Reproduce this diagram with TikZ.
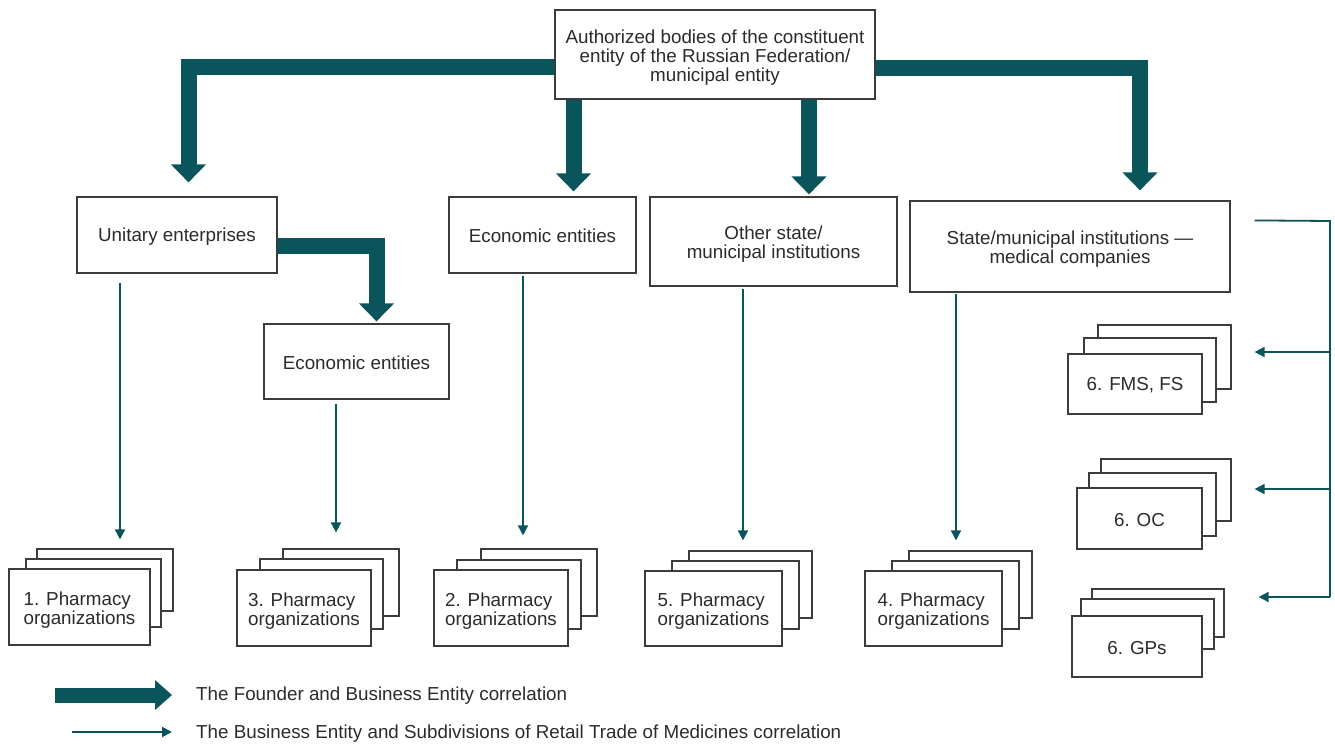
\documentclass[tikz,border=0pt]{standalone}
\usepackage{fontspec}
\setmainfont{Liberation Sans}
\usetikzlibrary{arrows.meta,calc}
\definecolor{tealc}{HTML}{0A545B}
\definecolor{boxc}{HTML}{3C3C3C}
\definecolor{txtc}{HTML}{2B2B2B}
\begin{document}
\begin{tikzpicture}[x=1pt,y=-1pt,
  txt/.style={text=txtc,font=\fontsize{18.8}{19}\selectfont},
  box/.style={txt,draw=boxc,line width=1.2pt,fill=white,inner sep=0pt,align=center,
    text height=16pt},
  twolines/.style={text height=38.5pt},
  threelines/.style={text height=57.5pt},
  layer/.style={draw=boxc,line width=1.2pt,fill=white,inner sep=0pt},
  front/.style={box,twolines,align=left},
  thickarr/.style={draw=tealc,line width=16pt,-{Triangle[width=34pt,length=18pt]}},
  thinarr/.style={draw=tealc,line width=1.8pt,-{Triangle[width=10pt,length=10pt]}},
  thinline/.style={draw=tealc,line width=1.8pt},
  ]
\useasboundingbox (0,0) rectangle (1335,745);

% main boxes
\node[box,threelines,minimum width=320pt,minimum height=89pt] (top) at (715,54.5)
  {Authorized bodies of the constituent\\entity of the Russian Federation/\\municipal entity};
\node[box,minimum width=200pt,minimum height=76pt] (ue) at (177,235) {Unitary enterprises};
\node[box,minimum width=187pt,minimum height=76pt] (ee1) at (542.5,235) {Economic entities};
\node[box,twolines,minimum width=247pt,minimum height=89pt] (oth) at (773.5,241.5) {Other state/\\municipal institutions};
\node[box,twolines,minimum width=320pt,minimum height=91pt] (smi) at (1070,246.5) {State/municipal institutions ---\\medical companies};
\node[box,minimum width=185pt,minimum height=75pt] (ee2) at (356.5,361.5) {Economic entities};

% stack 1
\node[layer,minimum width=136pt,minimum height=62pt] (p1c) at (105,580) {};
\node[layer,minimum width=135pt,minimum height=68pt] (p1b) at (93.5,593) {};
\node[front,minimum width=141pt,minimum height=76pt] (p1) at (79.5,607) {1. Pharmacy\\organizations};
% stack 3
\node[layer,minimum width=116pt,minimum height=67pt] (p3c) at (341,582.5) {};
\node[layer,minimum width=123pt,minimum height=70pt] (p3b) at (321.5,594) {};
\node[front,minimum width=134pt,minimum height=76pt] (p3) at (304,608) {3. Pharmacy\\organizations};
% stack 2
\node[layer,minimum width=116pt,minimum height=67pt] (p2c) at (539,582.5) {};
\node[layer,minimum width=124pt,minimum height=69pt] (p2b) at (519,594.5) {};
\node[front,minimum width=134pt,minimum height=76pt] (p2) at (501,608) {2. Pharmacy\\organizations};
% stack 5
\node[layer,minimum width=123pt,minimum height=67pt] (p5c) at (750.5,584.5) {};
\node[layer,minimum width=127pt,minimum height=68pt] (p5b) at (735.5,595) {};
\node[front,minimum width=137pt,minimum height=75pt] (p5) at (713.5,608.5) {5. Pharmacy\\organizations};
% stack 4
\node[layer,minimum width=123pt,minimum height=67pt] (p4c) at (970.5,584.5) {};
\node[layer,minimum width=127pt,minimum height=68pt] (p4b) at (955.5,595) {};
\node[front,minimum width=137pt,minimum height=75pt] (p4) at (933.5,608.5) {4. Pharmacy\\organizations};
% FMS
\node[layer,minimum width=133pt,minimum height=64pt] (fmsc) at (1164.5,357) {};
\node[layer,minimum width=132pt,minimum height=64pt] (fmsb) at (1150,370) {};
\node[box,minimum width=134pt,minimum height=60pt] (fms) at (1135,384) {6. FMS, FS};
% OC
\node[layer,minimum width=130pt,minimum height=62pt] (occ) at (1166,490) {};
\node[layer,minimum width=127pt,minimum height=63pt] (ocb) at (1152.5,504.5) {};
\node[box,minimum width=125pt,minimum height=61pt] (oc) at (1139.5,518.5) {6. OC};
% GPs
\node[layer,minimum width=132pt,minimum height=48pt] (gpc) at (1158,613) {};
\node[layer,minimum width=133pt,minimum height=50pt] (gpb) at (1147.5,624) {};
\node[box,minimum width=130pt,minimum height=61pt] (gp) at (1137,646.5) {6. GPs};

% thick arrows
\draw[thickarr,shorten >=14pt] (top.west |- 0,67) -| (ue.north -| 188.5,0);
\draw[thickarr,shorten >=10pt] (top.east |- 0,68) -| (smi.north -| 1140,0);
\draw[thickarr,shorten >=5pt] (top.south -| 573.5,0) -- (ee1.north -| 573.5,0);
\draw[thickarr,shorten >=2pt] (top.south -| 809,0) -- (oth.north -| 809,0);
\draw[thickarr,shorten >=2pt] (ue.east |- 0,246) -| (ee2.north -| 376.5,0);

% thin arrows
\draw[thinarr,shorten <=9pt,shorten >=9pt] (ue.south -| 120,0) -- (p1c.north -| 120,0);
\draw[thinarr,shorten <=4pt,shorten >=16pt] (ee2.south -| 336,0) -- (p3c.north -| 336,0);
\draw[thinarr,shorten <=2pt,shorten >=13pt] (ee1.south -| 523,0) -- (p2c.north -| 523,0);
\draw[thinarr,shorten <=2pt,shorten >=10pt] (oth.south -| 743,0) -- (p5c.north -| 743,0);
\draw[thinarr,shorten <=1pt,shorten >=10pt] (smi.south -| 956,0) -- (p4c.north -| 956,0);

% bracket on the right
\coordinate (bk) at (1330,221);
\draw[thinline] ($(smi.north east)+(24,20)$) -- (bk) -- (bk |- 0,597);
\draw[thinarr,shorten >=23pt] (bk |- 0,352) -- (fmsc.east |- 0,352);
\draw[thinarr,shorten >=23pt] (bk |- 0,489) -- (occ.east |- 0,489);
\draw[thinarr,shorten >=34pt] (bk |- 0,597) -- (gpc.east |- 0,597);

% legend
\coordinate (la) at (55,695);
\coordinate (lb) at (172,695);
\coordinate (lc) at (72,732);
\coordinate (ld) at (172,732);
\draw[draw=tealc,line width=15pt,-{Triangle[width=29pt,length=17pt]}] (la) -- (lb);
\draw[thinarr] (lc) -- (ld);
\node[txt,anchor=west,inner sep=0pt] (lt1) at (196,695.5) {The Founder and Business Entity correlation};
\node[txt,anchor=west,inner sep=0pt] (lt2) at (196,734) {The Business Entity and Subdivisions of Retail Trade of Medicines correlation};
\end{tikzpicture}
\end{document}
